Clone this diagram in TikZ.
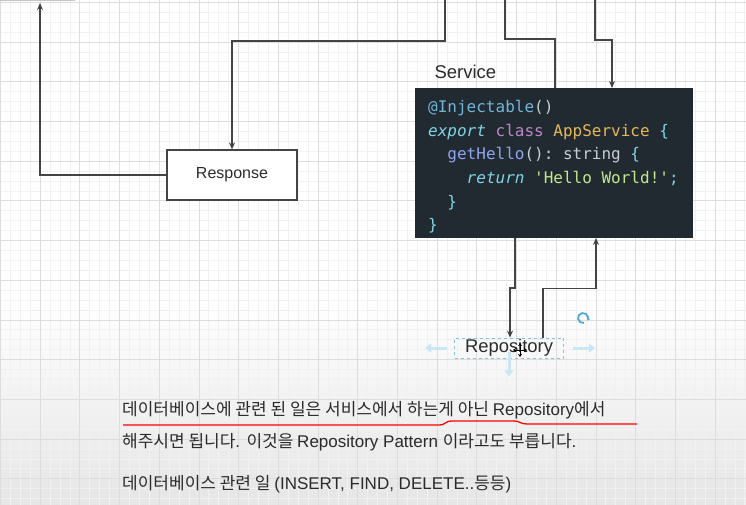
\documentclass[tikz,border=0pt]{standalone}
\usepackage{fontspec}
\setmainfont{Liberation Sans}
\setmonofont{DejaVu Sans Mono}
\newfontfamily\kr[Scale=1.0]{Noto Sans CJK KR}
\usepackage{xcolor}
\usetikzlibrary{arrows.meta}

\definecolor{ink}{HTML}{2B2B2B}
\definecolor{edge}{HTML}{444444}
\definecolor{gridminor}{HTML}{F1F1F1}
\definecolor{gridmajor}{HTML}{DDDDDD}
\definecolor{codebg}{HTML}{212A31}
\definecolor{deco}{HTML}{6FB6D8}
\definecolor{plain}{HTML}{C8CDD3}
\definecolor{kw}{HTML}{80D4E6}
\definecolor{cls}{HTML}{BD86C9}
\definecolor{type}{HTML}{E8B65A}
\definecolor{fn}{HTML}{8FA4F0}
\definecolor{str}{HTML}{C3E88D}
\definecolor{sel}{HTML}{4FA8D8}

\begin{document}
\begin{tikzpicture}[x=1pt, y=-1pt,
    every node/.style={font=\fontsize{16}{19}\selectfont, text=ink},
    link/.style={draw=edge, line width=1.2pt},
    tip/.style={-{Stealth[length=7pt, width=6pt]}},
    box/.style={draw=edge, fill=white, line width=1.2pt, minimum width=130pt, minimum height=50pt},
    codebox/.style={fill=codebg, minimum width=278pt, minimum height=150pt, inner sep=0pt, outer sep=0pt},
    codetext/.style={align=left, inner sep=0pt, font=\ttfamily\fontsize{16}{23.7}\selectfont},
    selbox/.style={draw=sel!70, dashed, line width=0.8pt, minimum width=109pt, minimum height=20pt, inner sep=0pt, font=\fontsize{18.4}{20}\selectfont},
    hint/.style={draw=sel!30, line width=3pt, -{Triangle[length=6pt, width=9pt]}},
    note/.style={font=\fontsize{17}{20}\selectfont, inner sep=0pt},
    redpen/.style={draw=red, line width=1.3pt}]
    \useasboundingbox (0,0) rectangle (746,505);
    \clip (0,0) rectangle (746,505);

    % Background and grid
    \fill[white] (0,0) rectangle (746,505);
    \shade[top color=white, bottom color=black!10] (0,300) rectangle (746,505);
    \foreach \i in {0,...,75} \draw[gridminor, line width=0.5pt] ({0.3+\i*9.925},0) -- ({0.3+\i*9.925},505);
    \foreach \j in {0,...,51} \draw[gridminor, line width=0.5pt] (0,{2.2+\j*9.925}) -- (746,{2.2+\j*9.925});
    \foreach \i in {0,...,19} \draw[gridmajor, line width=0.6pt] ({0.3+\i*39.7},0) -- ({0.3+\i*39.7},505);
    \foreach \j in {0,...,13} \draw[gridmajor, line width=0.6pt] (0,{2.2+\j*39.7}) -- (746,{2.2+\j*39.7});

    % Shape cut off at the top
    \draw[gray!45, line width=0.8pt, rounded corners=6pt] (-10,0.6) -- (79,0.6) -- (79,-20);

    % Nodes
    \node[box] (response) at (232,175) {Response};
    \node[anchor=west, font=\fontsize{18.5}{20}\selectfont] (svclabel) at (431,72) {Service};
    \node[codebox, anchor=north west] (service) at (415,88) {};
    \node[codetext, anchor=north west] (code) at ([shift={(13,12)}]service.north west) {%
      {\color{deco}@Injectable}{\color{plain}()}\\
      {\color{kw}\itshape export} {\color{cls}class} {\color{type}AppService} {\color{kw}\{}\\
      \phantom{xx}{\color{fn}getHello}{\color{plain}(): string} {\color{kw}\{}\\
      \phantom{xxxx}{\color{kw}\itshape return} {\color{str}'Hello World!'}{\color{kw};}\\
      \phantom{xx}{\color{kw}\}}\\
      {\color{kw}\}}};
    \node[selbox] (repo) at (509,348) {Repository};

    % Ends that leave the frame
    \coordinate (up) at (40,3);
    \coordinate (in1) at (445,0);
    \coordinate (out1) at (505,0);
    \coordinate (in2) at (595,0);

    % Connectors
    \draw[link, tip] (response.west) -| (up);
    \draw[link, tip] (in1) -- ++(0,41) -| (response.north);
    \draw[link] (out1) -- ++(0,39) -| ([xshift=140]service.north west);
    \draw[link, tip] (in2) -- ++(0,40) -| ([xshift=197]service.north west);
    \draw[link, tip] ([xshift=100]service.south west) -- ++(0,50) -| ([xshift=1]repo.north);
    \draw[link, tip] ([xshift=34]repo.north) -- ++(0,-49) -| ([xshift=181]service.south west);

    % Selection handles
    \draw[hint] ([xshift=-7]repo.west) -- ++(-22,0);
    \draw[hint] ([xshift=9]repo.east) -- ++(22,0);
    \draw[hint] ([yshift=6]repo.south) -- ++(0,24);
    \draw[sel, line width=1.8pt, -{Stealth[length=3pt, width=4pt]}] (583,318) ++(80:5) arc[start angle=80, end angle=390, radius=5];
    \draw[black, line width=1pt, {Stealth[length=3pt, width=4pt]}-{Stealth[length=3pt, width=4pt]}] (513,350) -- (527,350);
    \draw[black, line width=1pt, {Stealth[length=3pt, width=4pt]}-{Stealth[length=3pt, width=4pt]}] (520,343) -- (520,357);

    % Notes
    \node[note, anchor=base west] (line1) at (122,415) {{\kr 데이터베이스에 관련 된 일은 서비스에서 하는게 아닌 }Repository{\kr 에서}};
    \node[note, anchor=base west] (line2) at (122,447) {{\kr 해주시면 됩니다}. {\kr 이것을 }Repository Pattern {\kr 이라고도 부릅니다}.};
    \node[note, anchor=base west] (line3) at (122,489) {{\kr 데이터베이스 관련 일 }(INSERT, FIND, DELETE..{\kr 등등})};
    \draw[redpen] (123,425) -- (440,425) .. controls (445,425) and (445,421) .. (452,421) -- (514,421) .. controls (520,421) and (520,424) .. (527,424) -- (637,424);
\end{tikzpicture}
\end{document}
